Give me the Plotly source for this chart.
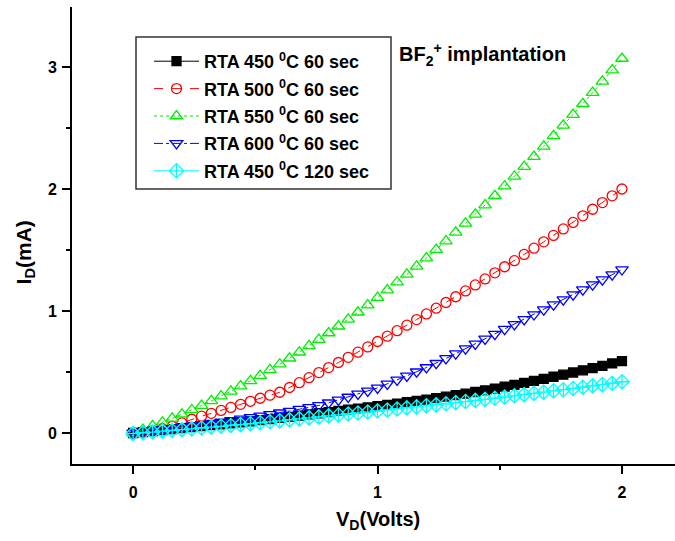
import plotly.graph_objects as go

V = [round(0.04 * i, 2) for i in range(51)]

I_450_60 = [0, 0.008, 0.016, 0.024, 0.032, 0.040, 0.048, 0.056, 0.064, 0.072, 0.080, 0.088, 0.096,
            0.105, 0.114, 0.124, 0.133, 0.143, 0.152, 0.162, 0.172, 0.181, 0.191, 0.200, 0.210,
            0.220, 0.231, 0.241, 0.252, 0.263, 0.274, 0.286, 0.298, 0.310, 0.323, 0.336, 0.349,
            0.363, 0.380, 0.395, 0.411, 0.427, 0.444, 0.461, 0.478, 0.496, 0.514, 0.532, 0.551,
            0.570, 0.590]
I_500_60 = [0, 0.010, 0.020, 0.035, 0.055, 0.083, 0.113, 0.138, 0.161, 0.185, 0.210, 0.235, 0.260,
            0.285, 0.310, 0.334, 0.373, 0.413, 0.454, 0.495, 0.536, 0.578, 0.620, 0.663, 0.706,
            0.750, 0.794, 0.839, 0.884, 0.930, 0.976, 1.023, 1.070, 1.117, 1.165, 1.214, 1.263,
            1.313, 1.363, 1.413, 1.464, 1.515, 1.567, 1.620, 1.673, 1.726, 1.780, 1.834, 1.889,
            1.944, 2.000]
I_550_60 = [0, 0.028, 0.058, 0.088, 0.120, 0.154, 0.189, 0.225, 0.263, 0.302, 0.342, 0.384, 0.427,
            0.471, 0.517, 0.564, 0.613, 0.662, 0.714, 0.766, 0.820, 0.875, 0.932, 0.990, 1.049,
            1.110, 1.172, 1.236, 1.300, 1.366, 1.434, 1.503, 1.573, 1.645, 1.718, 1.792, 1.868,
            1.945, 2.023, 2.103, 2.184, 2.266, 2.350, 2.436, 2.522, 2.610, 2.699, 2.790, 2.882,
            2.975, 3.070]
I_600_60 = [0, 0.009, 0.018, 0.028, 0.038, 0.048, 0.058, 0.069, 0.080, 0.092, 0.104, 0.116, 0.128,
            0.140, 0.153, 0.166, 0.180, 0.195, 0.210, 0.226, 0.248, 0.271, 0.295, 0.320, 0.345,
            0.370, 0.402, 0.435, 0.468, 0.502, 0.537, 0.572, 0.611, 0.651, 0.691, 0.731, 0.771,
            0.811, 0.851, 0.891, 0.931, 0.971, 1.011, 1.052, 1.093, 1.134, 1.175, 1.216, 1.257,
            1.298, 1.340]
I_450_120 = [-0.005, 0.002, 0.008, 0.015, 0.021, 0.028, 0.034, 0.041, 0.048, 0.055, 0.062, 0.069, 0.076,
             0.084, 0.092, 0.100, 0.108, 0.116, 0.124, 0.132, 0.140, 0.148, 0.156, 0.164, 0.172,
             0.180, 0.189, 0.197, 0.206, 0.214, 0.223, 0.231, 0.240, 0.249, 0.258, 0.267, 0.276,
             0.285, 0.295, 0.305, 0.315, 0.325, 0.335, 0.345, 0.355, 0.365, 0.375, 0.386, 0.397,
             0.408, 0.420]

series = [
    ("RTA 450 <sup>0</sup>C 60 sec", I_450_60, "black", "solid", "square", 9),
    ("RTA 500 <sup>0</sup>C 60 sec", I_500_60, "red", "dash", "circle-open", 10),
    ("RTA 550 <sup>0</sup>C 60 sec", I_550_60, "#00ee00", "dot", "triangle-up-open", 11),
    ("RTA 600 <sup>0</sup>C 60 sec", I_600_60, "blue", "dashdot", "triangle-down-open", 11),
    ("RTA 450 <sup>0</sup>C 120 sec", I_450_120, "cyan", "longdashdot", "diamond-cross-open", 11),
]

FONT = "Arial, Liberation Sans, sans-serif"

# pixel helpers for paper coordinates (plot area: x 72..675, y 7..464)
def px_x(p):
    return (p - 72) / 603


def px_y(p):
    return (464 - p) / 457


fig = go.Figure()
for k, (name, ys, col, dash, sym, sz) in enumerate(series):
    fig.add_trace(go.Scatter(
        x=V, y=ys, name=name, mode="lines+markers", legendgroup=f"g{k}",
        line=dict(color=col, width=1, dash=dash),
        marker=dict(symbol=sym, size=sz, color=col, line=dict(color=col, width=1.3)),
    ))

axis_common = dict(
    showline=True, linecolor="black", linewidth=2, ticks="outside", ticklen=8, tickwidth=2,
    tickcolor="black", showgrid=False, zeroline=False,
    tickfont=dict(family=FONT, size=16, color="black", weight="bold"),
    minor=dict(ticks="outside", ticklen=4, tickwidth=2, tickcolor="black", dtick=0.5, showgrid=False),
)

fig.update_layout(
    width=675, height=541,
    margin=dict(l=72, r=0, t=7, b=77),
    paper_bgcolor="white", plot_bgcolor="white",
    xaxis=dict(range=[-0.25, 2.217], tickvals=[0, 1, 2], ticktext=["0", "1", "2"],
               ticklabelstandoff=5, **axis_common),
    yaxis=dict(range=[-0.254, 3.492], tickvals=[0, 1, 2, 3], ticktext=["0", "1", "2", "3"],
               ticklabelstandoff=2, **axis_common),
    xaxis2=dict(range=[-0.25, 2.217], overlaying="x", side="top", showline=True, linecolor="black",
                linewidth=2, ticks="outside", ticklen=3, tickwidth=2, tickcolor="black",
                tickvals=[0, 1, 2], showticklabels=False, showgrid=False, zeroline=False),
    showlegend=True,
    legend=dict(
        x=px_x(149), y=px_y(43), xanchor="left", yanchor="top",
        bgcolor="rgba(0,0,0,0)", borderwidth=0,
        font=dict(family=FONT, size=18, color="black", weight="bold"),
        tracegroupgap=1, itemwidth=45,
    ),
    shapes=[
        dict(type="rect", xref="paper", yref="paper", x0=px_x(136), x1=px_x(391),
             y0=px_y(189), y1=px_y(37), line=dict(color="#333333", width=1.5),
             fillcolor="white", layer="below"),
    ],
    annotations=[
        dict(text="BF<sub>2</sub><sup>+</sup> implantation", x=px_x(397), y=px_y(55),
             xref="paper", yref="paper", xanchor="left", yanchor="middle", showarrow=False,
             font=dict(family=FONT, size=20, color="black", weight="bold")),
        dict(text="V<sub>D</sub>(Volts)", x=(378 - 133) / 244.5, y=px_y(520),
             xref="x", yref="paper", showarrow=False, xanchor="center", yanchor="middle",
             font=dict(family=FONT, size=20, color="black", weight="bold")),
        dict(text="I<sub>D</sub>(mA)", x=px_x(25), y=1.48, xref="paper", yref="y",
             showarrow=False, textangle=-90, xanchor="center", yanchor="middle",
             font=dict(family=FONT, size=21, color="black", weight="bold")),
    ],
)

fig.write_html("out.html")
